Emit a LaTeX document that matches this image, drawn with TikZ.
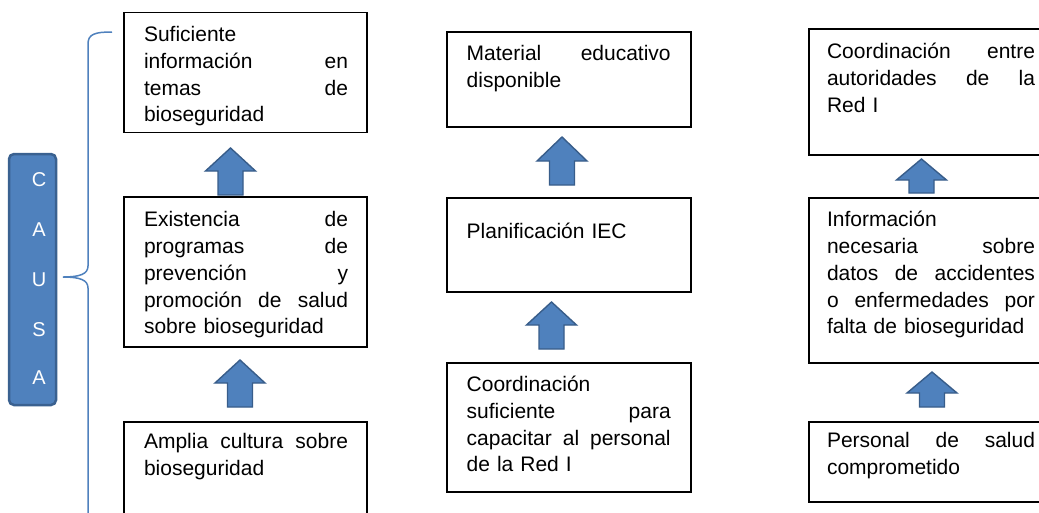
\documentclass[tikz,border=0pt]{standalone}
\usepackage{fontspec}
\setmainfont{Liberation Sans}
\definecolor{arrfill}{HTML}{4F81BD}
\definecolor{arrdraw}{HTML}{385D8A}
\definecolor{causafill}{HTML}{4F81BD}
\definecolor{causadraw}{HTML}{3A6190}
\definecolor{bracecol}{HTML}{4F81BD}
\newcommand\jl[1]{\leavevmode\hbox to \hsize{#1}}
% block arrow: #1 centre x, #2 bottom y, #3 total length, #4 head length
\newcommand\blockup[4]{%
  \draw[arrowshape] (#1,#2) ++(-12.5,0) -- ++(0,{-(#3-#4)}) -- ++(-12.5,0)
    -- ++(25,{-#4}) -- ++(25,{#4}) -- ++(-12.5,0) -- ++(0,{#3-#4}) -- cycle;}
\begin{document}
\begin{tikzpicture}[x=1pt,y=-1pt,
  box/.style={draw=black, line width=1.5pt, fill=white, inner sep=0, outer sep=0, anchor=north west},
  txt/.style={inner sep=0, outer sep=0, anchor=north west, align=left,
    font=\fontsize{21}{26.7}\selectfont, text width=204pt},
  letter/.style={text=white, font=\fontsize{20}{20}\selectfont, inner sep=0},
  arrowshape/.style={fill=arrfill, draw=arrdraw, line width=1.4pt, line join=miter}
]
\useasboundingbox (0,0) rectangle (1039,512);
\fill[white] (0,0) rectangle (1039,512);
\clip (0,0) rectangle (1039,512);

% CAUSA label
\node[draw=causadraw, fill=causafill, line width=2.5pt, rounded corners=5pt,
  minimum width=47pt, minimum height=251pt, inner sep=0, outer sep=0, anchor=north west]
  (causa) at (9,154) {};
\node[letter] (l1) at (39,180) {C};
\node[letter] (l2) at (39,230) {A};
\node[letter] (l3) at (39,280) {U};
\node[letter] (l4) at (39,330) {S};
\node[letter] (l5) at (39,378) {A};

% brace
\draw[bracecol, line width=1.5pt]
  (112,32) .. controls (95,32) and (88,34) .. (88,44) -- (88,266)
  .. controls (88,274) and (80,277) .. (63,277)
  .. controls (80,277) and (88,280) .. (88,288) -- (88,512)
  .. controls (88,520) and (95,522) .. (112,522);

% column 1
\node[box, minimum width=243pt, minimum height=120pt] (c1a) at (124,12.7) {};
\node[box, minimum width=243pt, minimum height=150pt] (c1b) at (124,197) {};
\node[box, minimum width=243pt, minimum height=120pt] (c1c) at (124,422) {};
\node[txt] (t1a) at ([shift={(20,10.3)}]c1a.north west)
  {\strut Suficiente\\ \jl{información\hfill en}\\ \jl{temas\hfill de}\\ bioseguridad};
\node[txt] (t1b) at ([shift={(20,11.3)}]c1b.north west)
  {\strut\jl{Existencia\hfill de}\\ \jl{programas\hfill de}\\ \jl{prevención\hfill y}\\ \jl{promoción\hfill de\hfill salud}\\ sobre bioseguridad};
\node[txt] (t1c) at ([shift={(20,8.3)}]c1c.north west)
  {\strut\jl{Amplia\hfill cultura\hfill sobre}\\ bioseguridad};
\blockup{230.5}{195}{47}{23}
\blockup{240}{407}{47}{23}

% column 2
\node[box, minimum width=244pt, minimum height=95pt] (c2a) at (447,32) {};
\node[box, minimum width=244pt, minimum height=94pt] (c2b) at (447,198) {};
\node[box, minimum width=244pt, minimum height=129pt] (c2c) at (447,363) {};
\node[txt] (t2a) at ([shift={(19.7,10.3)}]c2a.north west)
  {\strut\jl{Material\hfill educativo}\\ disponible};
\node[txt] (t2b) at ([shift={(19.7,22)}]c2b.north west)
  {\strut Planificación IEC};
\node[txt] (t2c) at ([shift={(19.7,10)}]c2c.north west)
  {\strut Coordinación\\ \jl{suficiente\hfill para}\\ \jl{capacitar\hfill al\hfill personal}\\ de la Red I};
\blockup{562}{185}{48}{24}
\blockup{551.5}{349}{47}{23}

% column 3
\node[box, minimum width=252pt, minimum height=126pt] (c3a) at (809,29) {};
\node[box, minimum width=252pt, minimum height=165pt] (c3b) at (809,198) {};
\node[box, minimum width=252pt, minimum height=80pt] (c3c) at (809,422) {};
\node[txt, text width=208pt] (t3a) at ([shift={(18,11.3)}]c3a.north west)
  {\strut\jl{Coordinación\hfill entre}\\ \jl{autoridades\hfill de\hfill la}\\ Red I};
\node[txt, text width=208pt] (t3b) at ([shift={(18,10.3)}]c3b.north west)
  {\strut Información\\ \jl{necesaria\hfill sobre}\\ \jl{datos\hfill de\hfill accidentes}\\ \jl{o\hfill enfermedades\hfill por}\\ falta de bioseguridad};
\node[txt, text width=208pt] (t3c) at ([shift={(18,7.3)}]c3c.north west)
  {\strut\jl{Personal\hfill de\hfill salud}\\ comprometido};
\blockup{921.5}{193}{34}{21}
\blockup{932}{407}{35}{21}
\end{tikzpicture}
\end{document}
